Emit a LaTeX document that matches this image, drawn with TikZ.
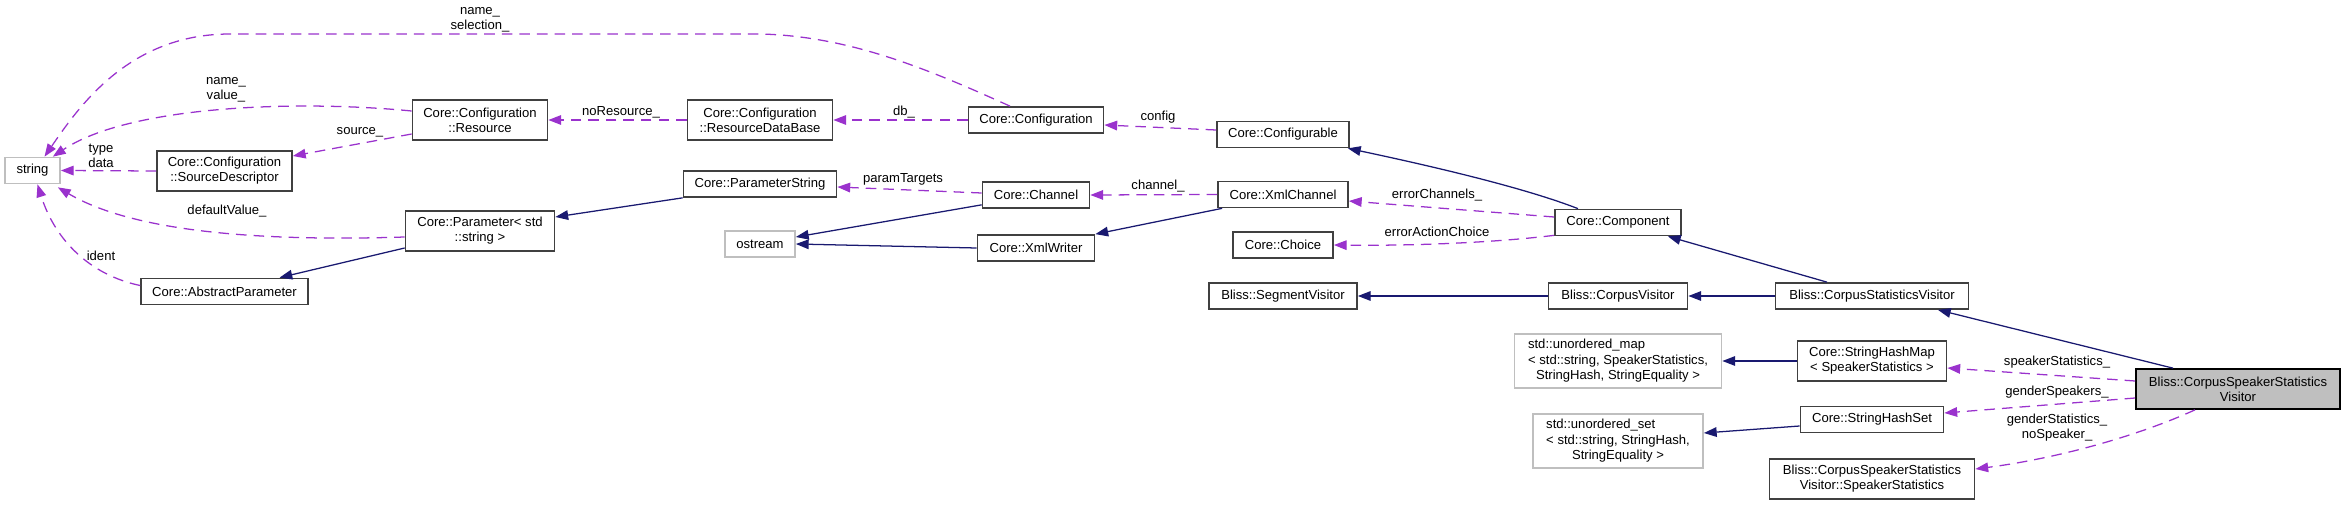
\documentclass[tikz,border=0pt]{standalone}
\usepackage{fontspec}
\setmainfont{Liberation Sans}
\usetikzlibrary{arrows.meta, calc}
\definecolor{edgenavy}{HTML}{191970}
\definecolor{edgepurple}{HTML}{9A32CD}
\definecolor{boxgray}{HTML}{404040}
\definecolor{extgray}{HTML}{BFBFBF}
\tikzset{
  cls/.style={rectangle, draw=boxgray, fill=white, line width=1.2pt, inner sep=0pt,
              align=center, font=\fontsize{9.3}{10.7}\selectfont},
  onebox/.style={cls, minimum height=0.65cm},
  twobox/.style={cls, minimum height=1.0cm},
  extcls/.style={draw=extgray},
  selfcls/.style={draw=black, fill=extgray},
  inh/.style={-{Triangle[length=0.32cm, width=0.24cm]}, draw=edgenavy, line width=0.9pt},
  uses/.style={-{Triangle[length=0.32cm, width=0.24cm]}, draw=edgepurple, line width=0.9pt,
               dash pattern=on 7.5pt off 5pt},
  elabel/.style={font=\fontsize{9.3}{10.7}\selectfont, inner sep=0pt, align=center},
}

\begin{document}
\begin{tikzpicture}[x=0.025cm, y=-0.025cm]
  \useasboundingbox (0,0) rectangle (2345,505);

  \node[onebox, extcls, minimum width=1.375cm] (str) at (32.5,170.5) {string};
  \node[twobox, minimum width=3.375cm] (srcdesc) at (224.5,171) {Core::Configuration\\::SourceDescriptor};
  \node[onebox, minimum width=4.175cm] (absparam) at (224.5,291.5) {Core::AbstractParameter};
  \node[twobox, minimum width=3.375cm] (resource) at (480,120) {Core::Configuration\\::Resource};
  \node[twobox, minimum width=3.725cm] (param) at (480,231) {Core::Parameter< std\\::string >};
  \node[twobox, minimum width=3.625cm] (rdb) at (760,120) {Core::Configuration\\::ResourceDataBase};
  \node[onebox, minimum width=3.825cm] (paramstr) at (760,184) {Core::ParameterString};
  \node[onebox, extcls, minimum width=1.75cm] (ostream) at (760,244) {ostream};
  \node[onebox, minimum width=3.375cm] (config) at (1036,120) {Core::Configuration};
  \node[onebox, minimum width=2.675cm] (channel) at (1036,195) {Core::Channel};
  \node[onebox, minimum width=2.925cm] (xmlwriter) at (1036,248) {Core::XmlWriter};
  \node[onebox, minimum width=3.3cm] (configurable) at (1283,134.5) {Core::Configurable};
  \node[onebox, minimum width=3.25cm] (xmlchannel) at (1283,194.5) {Core::XmlChannel};
  \node[onebox, minimum width=2.5cm] (choice) at (1283,245) {Core::Choice};
  \node[onebox, minimum width=3.7cm] (segvisitor) at (1283,296) {Bliss::SegmentVisitor};
  \node[onebox, minimum width=3.15cm] (component) at (1618,222.5) {Core::Component};
  \node[onebox, minimum width=3.475cm] (corpusvisitor) at (1618,296) {Bliss::CorpusVisitor};
  \node[cls, extcls, minimum width=5.175cm, minimum height=1.35cm] (umap) at (1618,361)
    {\begin{tabular}{@{}l@{}}std::unordered\_map\\< std::string, SpeakerStatistics,\\
     \multicolumn{1}{@{}c@{}}{StringHash, StringEquality >}\end{tabular}};
  \node[cls, extcls, minimum width=4.25cm, minimum height=1.35cm] (uset) at (1618,441)
    {\begin{tabular}{@{}l@{}}std::unordered\_set\\< std::string, StringHash,\\
     \multicolumn{1}{@{}c@{}}{StringEquality >}\end{tabular}};
  \node[onebox, minimum width=4.825cm] (csv) at (1872,296) {Bliss::CorpusStatisticsVisitor};
  \node[twobox, minimum width=3.725cm] (shmap) at (1872,361) {Core::StringHashMap\\< SpeakerStatistics >};
  \node[onebox, minimum width=3.575cm] (shset) at (1872,419.5) {Core::StringHashSet};
  \node[twobox, minimum width=5.125cm] (spkstats) at (1872,479) {Bliss::CorpusSpeakerStatistics\\Visitor::SpeakerStatistics};
  \node[twobox, selfcls, minimum width=5.1cm] (cssv) at (2238,389) {Bliss::CorpusSpeakerStatistics\\Visitor};

  \node[elabel] (lblNameSel) at (480,19.5) {name\_\\selection\_};
  \node[elabel] (lblNameVal) at (226,90) {name\_\\value\_};
  \node[elabel] (lblSource) at (360,132) {source\_};
  \node[elabel] (lblTypeData) at (101,155.5) {type\\data};
  \node[elabel] (lblDefault) at (227,211) {defaultValue\_};
  \node[elabel] (lblIdent) at (101,256) {ident};
  \node[elabel] (lblNoRes) at (621,112) {noResource\_};
  \node[elabel] (lblDb) at (904,112) {db\_};
  \node[elabel] (lblConfig) at (1158,117) {config};
  \node[elabel] (lblParamT) at (903,179) {paramTargets};
  \node[elabel] (lblChannel) at (1158,186) {channel\_};
  \node[elabel] (lblErrCh) at (1437,195) {errorChannels\_};
  \node[elabel] (lblErrAct) at (1437,232) {errorActionChoice};
  \node[elabel] (lblSpkStat) at (2057,362) {speakerStatistics\_};
  \node[elabel] (lblGendSpk) at (2057,392) {genderSpeakers\_};
  \node[elabel] (lblGendStat) at (2057,427.5) {genderStatistics\_\\noSpeaker\_};

  \draw[uses] ($(config.north)+(-26,0)$) .. controls (930,70) and (850,36) .. (760,34)
    -- (230,34) .. controls (130,34) and (80,105) .. ($(str.north)+(12,0)$);
  \draw[uses] ($(resource.west)+(0,-9)$) .. controls (300,100) and (130,105) .. ($(str.north east)+(-8,0)$);
  \draw[uses] ($(resource.west)+(0,14)$) -- ($(srcdesc.east)+(0,-15)$);
  \draw[uses] (srcdesc.west) -- (str.east);
  \draw[uses] ($(param.west)+(0,6)$) .. controls (250,242) and (130,230) .. ($(str.south east)+(-3,3)$);
  \draw[uses] ($(absparam.west)+(0,-6)$) .. controls (90,275) and (55,240) .. ($(str.south)+(5,0)$);
  \draw[inh] ($(param.west)+(0,17)$) -- ($(absparam.north)+(55,0)$);
  \draw[uses] (rdb.west) -- (resource.east);
  \draw[uses] (config.west) -- (rdb.east);
  \draw[uses] ($(configurable.west)+(0,-4.5)$) -- ($(config.east)+(0,5)$);
  \draw[inh] (paramstr.south west) -- ($(param.east)+(0,-14)$);
  \draw[uses] ($(channel.west)+(0,-2)$) -- ($(paramstr.east)+(0,3)$);
  \draw[uses] (xmlchannel.west) -- (channel.east);
  \draw[inh] ($(channel.south west)+(0,-4)$) -- ($(ostream.east)+(0,-7)$);
  \draw[inh] (xmlwriter.west) -- (ostream.east);
  \draw[inh] ($(xmlchannel.south west)+(5,0)$) -- (xmlwriter.north east);
  \draw[inh] ($(component.north)+(-40,0)$) .. controls (1530,190) and (1450,170) .. ($(configurable.south east)+(-2,0)$);
  \draw[uses] ($(component.west)+(0,-5.5)$) -- ($(xmlchannel.east)+(0,6.5)$);
  \draw[uses] ($(component.south west)+(0,-1)$) .. controls (1500,242) and (1420,246) .. (choice.east);
  \draw[inh] (corpusvisitor.west) -- (segvisitor.east);
  \draw[inh] (csv.west) -- (corpusvisitor.east);
  \draw[inh] ($(csv.north)+(-45,0)$) -- ($(component.south east)+(-14,0)$);
  \draw[inh] (shmap.west) -- (umap.east);
  \draw[inh] ($(shset.west)+(0,6.5)$) -- ($(uset.east)+(0,-8)$);
  \draw[inh] ($(cssv.north)+(-65,0)$) -- ($(csv.south east)+(-31.5,0)$);
  \draw[uses] ($(cssv.west)+(0,-8)$) -- ($(shmap.east)+(0,7)$);
  \draw[uses] ($(cssv.west)+(0,9)$) -- ($(shset.east)+(0,-6.5)$);
  \draw[uses] ($(cssv.south)+(-43,0)$) .. controls (2140,435) and (2060,458) .. ($(spkstats.east)+(0,-10)$);
\end{tikzpicture}
\end{document}
